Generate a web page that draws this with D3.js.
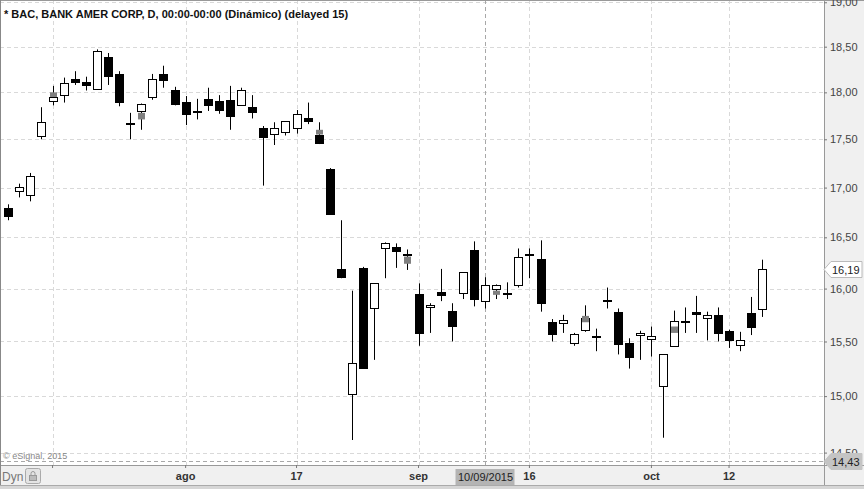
<!DOCTYPE html>
<html>
<head>
<meta charset="utf-8">
<script src="https://cdn.jsdelivr.net/npm/d3@7"></script>
<style>
  body { margin: 0; background: #fff; }
  svg { display: block; font-family: "Liberation Sans", Arial, sans-serif; }
</style>
</head>
<body>
<div id="chart"></div>
<script>
// BAC daily candles, 10 Jul 2015 - 15 Oct 2015
const dates = ['2015-07-10','2015-07-13','2015-07-14','2015-07-15','2015-07-16','2015-07-17',
  '2015-07-20','2015-07-21','2015-07-22','2015-07-23','2015-07-24','2015-07-27','2015-07-28',
  '2015-07-29','2015-07-30','2015-07-31','2015-08-03','2015-08-04','2015-08-05','2015-08-06',
  '2015-08-07','2015-08-10','2015-08-11','2015-08-12','2015-08-13','2015-08-14','2015-08-17',
  '2015-08-18','2015-08-19','2015-08-20','2015-08-21','2015-08-24','2015-08-25','2015-08-26',
  '2015-08-27','2015-08-28','2015-08-31','2015-09-01','2015-09-02','2015-09-03','2015-09-04',
  '2015-09-08','2015-09-09','2015-09-10','2015-09-11','2015-09-14','2015-09-15','2015-09-16',
  '2015-09-17','2015-09-18','2015-09-21','2015-09-22','2015-09-23','2015-09-24','2015-09-25',
  '2015-09-28','2015-09-29','2015-09-30','2015-10-01','2015-10-02','2015-10-05','2015-10-06',
  '2015-10-07','2015-10-08','2015-10-09','2015-10-12','2015-10-13','2015-10-14','2015-10-15'];

const open = [16.79,16.97,16.93,17.53,17.91,17.97,18.15,18.11,18.03,18.39,18.20,17.67,17.79,
  17.96,18.20,18.03,17.90,17.80,17.93,17.91,17.92,17.87,17.84,17.62,17.56,17.57,17.62,17.72,
  17.55,17.19,16.19,15.02,16.20,15.81,16.39,16.40,16.34,15.95,15.82,15.97,15.79,15.96,16.37,
  15.88,15.99,15.96,16.04,16.34,16.29,15.68,15.67,15.49,15.61,15.55,15.89,15.78,15.49,15.56,
  15.52,15.09,15.46,15.69,15.78,15.72,15.75,15.60,15.46,15.77,15.81];
const high = [16.83,17.04,17.15,17.84,18.07,18.16,18.23,18.17,18.47,18.43,18.23,17.78,17.88,
  18.20,18.29,18.06,17.96,17.93,18.05,17.97,18.07,18.05,17.97,17.64,17.68,17.69,17.81,17.89,
  17.68,17.20,16.67,15.98,16.21,16.05,16.45,16.44,16.38,16.05,15.86,16.19,15.86,16.16,16.46,
  16.11,16.04,16.06,16.39,16.39,16.47,15.71,15.75,15.58,15.84,15.62,16.01,15.81,15.53,15.60,
  15.64,15.38,15.79,15.82,15.93,15.78,15.82,15.61,15.59,15.92,16.28];
const low = [16.67,16.90,16.86,17.50,17.86,17.89,18.08,18.02,18.03,18.08,17.85,17.50,17.60,
  17.92,18.05,17.86,17.65,17.71,17.80,17.77,17.60,17.86,17.72,17.02,17.44,17.54,17.56,17.66,
  17.45,16.73,16.10,14.61,15.25,15.33,16.10,16.20,16.18,15.46,15.58,15.88,15.50,15.90,15.83,
  15.81,15.90,15.90,16.01,16.10,15.78,15.50,15.58,15.46,15.59,15.41,15.81,15.38,15.25,15.33,
  15.36,14.63,15.45,15.58,15.58,15.51,15.50,15.44,15.41,15.56,15.73];
const close = [16.71,17.01,17.12,17.68,17.95,18.10,18.12,18.08,18.45,18.18,17.90,17.66,17.87,
  18.15,18.13,17.88,17.77,17.79,17.87,17.81,17.75,18.03,17.79,17.52,17.62,17.69,17.77,17.69,
  17.47,16.73,16.11,15.30,15.26,16.05,16.44,16.36,16.33,15.58,15.84,15.94,15.65,16.16,15.90,
  16.03,16.03,15.95,16.31,16.33,15.87,15.57,15.70,15.57,15.72,15.54,15.88,15.48,15.36,15.58,
  15.55,15.38,15.69,15.68,15.76,15.75,15.58,15.52,15.51,15.64,16.19];

// grey marks drawn on some candles
const greyDates = ['2015-07-16','2015-07-28','2015-08-19','2015-08-31','2015-09-11','2015-09-23','2015-10-05'];
const greyLow  = [17.95,17.71,17.55,16.24,15.94,15.68,15.58];
const greyHigh = [18.00,17.78,17.60,16.31,15.98,15.74,15.64];

// axes
const yTicks = [19, 18.5, 18, 17.5, 17, 16.5, 16, 15.5, 15, 14.5];
const xTickDates = ['2015-07-16','2015-08-03','2015-08-17','2015-09-01','2015-09-16','2015-10-01','2015-10-12'];
const xTickLabels = ['', 'ago', '17', 'sep', '16', 'oct', '12'];
const lastPrice = 16.19;
const cursorPrice = 14.43;
const cursorDate = '2015-09-10';
const cursorLabel = '10/09/2015';

const width = 864, height = 489;
const plotRight = 824, plotBottom = 465;

const svg = d3.select('#chart').append('svg')
  .attr('width', width).attr('height', height);

const x = d3.scaleBand().domain(dates).range([2.65, 2.65 + dates.length * 11.09]);
const y = d3.scaleLog().domain([18.5, 14.5]).range([46.7, 452.6]);
const cx = d => Math.round(x(d) + x.bandwidth() / 2) + 0.5;
const fmt = v => d3.format('.2f')(v).replace('.', ',');

// background panels
svg.append('rect').attr('width', width).attr('height', height).attr('fill', '#fff');
svg.append('rect').attr('x', plotRight).attr('y', 0).attr('width', width - plotRight).attr('height', height).attr('fill', '#f0f0f0');
svg.append('rect').attr('x', 0).attr('y', plotBottom).attr('width', width).attr('height', height - plotBottom).attr('fill', '#f0f0f0');
svg.append('rect').attr('x', 0).attr('y', 485).attr('width', width).attr('height', 4).attr('fill', '#d6d6d6');

// grid
const grid = svg.append('g').attr('stroke', '#d9d9d9').attr('stroke-dasharray', '4,3');
grid.selectAll('.hg').data(yTicks).enter().append('line')
  .attr('x1', 0).attr('x2', plotRight)
  .attr('y1', d => Math.round(y(d)) + 0.5).attr('y2', d => Math.round(y(d)) + 0.5);
grid.selectAll('.vg').data(xTickDates).enter().append('line')
  .attr('x1', cx).attr('x2', cx).attr('y1', 0).attr('y2', plotBottom);

// cursor lines
const cur = svg.append('g').attr('stroke', '#a8a8a8').attr('stroke-dasharray', '4,3');
cur.append('line').attr('x1', cx(cursorDate)).attr('x2', cx(cursorDate)).attr('y1', 0).attr('y2', plotBottom);
cur.append('line').attr('x1', 0).attr('x2', plotRight)
  .attr('y1', Math.round(y(cursorPrice)) + 0.5).attr('y2', Math.round(y(cursorPrice)) + 0.5);

// candles
const candles = dates.map((d, i) => ({ d, o: open[i], h: high[i], l: low[i], c: close[i] }));
const bw = 8;
const plot = svg.append('g');
plot.selectAll('.wick').data(candles).enter().append('line')
  .attr('x1', d => cx(d.d)).attr('x2', d => cx(d.d))
  .attr('y1', d => y(d.h)).attr('y2', d => y(d.l))
  .attr('stroke', '#000').attr('stroke-width', 1);
plot.selectAll('.body').data(candles).enter().append('rect')
  .attr('x', d => cx(d.d) - bw / 2)
  .attr('y', d => Math.round(y(Math.max(d.o, d.c))) + 0.5)
  .attr('width', bw)
  .attr('height', d => Math.max(1, Math.round(y(Math.min(d.o, d.c)) - y(Math.max(d.o, d.c)))))
  .attr('fill', d => d.c >= d.o ? '#fff' : '#000')
  .attr('stroke', '#000').attr('stroke-width', 1);
plot.selectAll('.grey').data(greyDates).enter().append('rect')
  .attr('x', d => cx(d) - bw / 2 + 0.5)
  .attr('y', (d, i) => y(greyHigh[i]))
  .attr('width', bw - 1)
  .attr('height', (d, i) => y(greyLow[i]) - y(greyHigh[i]))
  .attr('fill', '#808080');

// borders
svg.append('line').attr('x1', plotRight + 0.5).attr('x2', plotRight + 0.5).attr('y1', 0).attr('y2', 485).attr('stroke', '#999');
svg.append('line').attr('x1', 0).attr('x2', width).attr('y1', plotBottom + 0.5).attr('y2', plotBottom + 0.5).attr('stroke', '#999');
svg.append('line').attr('x1', 0).attr('x2', width).attr('y1', 0.5).attr('y2', 0.5).attr('stroke', '#999');
svg.append('line').attr('x1', 0.5).attr('x2', 0.5).attr('y1', 0).attr('y2', 485).attr('stroke', '#888');
svg.append('line').attr('x1', 0).attr('x2', width).attr('y1', 485.5).attr('y2', 485.5).attr('stroke', '#aaa');

// right axis
const yAxis = svg.append('g').attr('transform', `translate(${plotRight},0)`)
  .call(d3.axisRight(y).tickValues(yTicks).tickSize(3).tickPadding(3).tickFormat(fmt));
yAxis.select('.domain').remove();
yAxis.selectAll('line').attr('stroke', '#777');
yAxis.selectAll('text').attr('fill', '#444').style('font-size', '11px');

// bottom axis
const xAxis = svg.append('g').attr('transform', `translate(0,${plotBottom})`)
  .call(d3.axisBottom(x).tickValues(xTickDates).tickSize(3).tickPadding(4)
    .tickFormat(d => xTickLabels[xTickDates.indexOf(d)]));
xAxis.select('.domain').remove();
xAxis.selectAll('line').attr('stroke', '#777');
xAxis.selectAll('text').attr('fill', '#333').style('font-size', '11px').style('font-weight', 'bold');

// cursor date label
const cdx = cx(cursorDate);
svg.append('rect').attr('x', cdx - 30).attr('y', 469).attr('width', 59).attr('height', 16).attr('fill', '#b4b4b4');
svg.append('text').attr('x', cdx).attr('y', 481).attr('text-anchor', 'middle')
  .attr('fill', '#222').style('font-size', '11px').text(cursorLabel);

// price tags
function priceTag(v, fill, stroke) {
  const yy = Math.round(y(v)) + 0.5;
  svg.append('path')
    .attr('d', `M${plotRight},${yy} L${plotRight + 7},${yy - 8} L${width - 2},${yy - 8} L${width - 2},${yy + 8} L${plotRight + 7},${yy + 8} Z`)
    .attr('fill', fill).attr('stroke', stroke);
  svg.append('text').attr('x', plotRight + 8).attr('y', yy + 4)
    .attr('fill', '#222').style('font-size', '11px').text(fmt(v));
}
priceTag(lastPrice, '#fff', '#bbb');
priceTag(cursorPrice, '#c4c4c4', '#c4c4c4');

// title and notes
svg.append('text').attr('x', 4).attr('y', 18).attr('fill', '#111')
  .style('font-size', '11px').style('font-weight', 'bold')
  .text('* BAC, BANK AMER CORP, D, 00:00-00:00 (Dinámico) (delayed 15)');
svg.append('text').attr('x', 3).attr('y', 459).attr('fill', '#888')
  .style('font-size', '9px').text('© eSignal, 2015');
svg.append('text').attr('x', 2).attr('y', 481).attr('fill', '#777')
  .style('font-size', '12px').text('Dyn');
svg.append('rect').attr('x', 25.5).attr('y', 468.5).attr('width', 15).attr('height', 15).attr('rx', 2)
  .attr('fill', '#e4e4e4').attr('stroke', '#aaa');
svg.append('rect').attr('x', 29.5).attr('y', 475.5).attr('width', 7).attr('height', 5).attr('fill', '#bbb').attr('stroke', '#999');
svg.append('path').attr('d', 'M31,475.5 v-2 a2,2 0 0 1 4,0 v2').attr('fill', 'none').attr('stroke', '#999');
</script>
</body>
</html>
